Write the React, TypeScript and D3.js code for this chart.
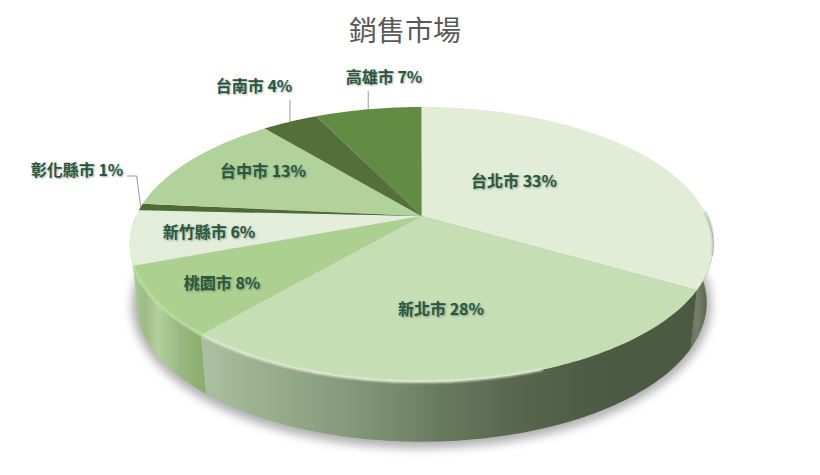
import * as d3 from "d3";

const CITIES = ["台北市", "新北市", "桃園市", "新竹縣市", "彰化縣市", "台中市", "台南市", "高雄市"];
const SHARES = [33.4, 27.9, 8, 6.4, 0.8, 12.5, 3.8, 7.2];
const TOP_COLORS = ["#e1edd6", "#c5deb4", "#acd08f", "#e2eed9", "#4f6b35", "#b1d39b", "#546f39", "#628c43"];

const WIDTH = 820;
const HEIGHT = 475;
const FONT = "'Noto Sans CJK TC', 'Noto Sans', sans-serif";

// label centres, in the same order as CITIES
const LABEL_POS: [number, number][] = [
  [514, 183], [441, 311], [222, 285], [209, 234], [77, 172], [263, 173], [254, 88], [384, 79],
];

// side wall colours by x position, for the slices facing the viewer
const SIDE_STOPS: Record<number, [number, string][]> = {
  0: [[680, "#4d5a42"], [688, "#5a6850"], [697, "#757f6e"], [707, "#566848"], [714, "#55664a"]],
  1: [[205, "#aac0a0"], [260, "#9bb08e"], [320, "#8ba181"], [400, "#768a6b"], [440, "#687a5e"], [525, "#56654c"], [600, "#4d5a44"], [690, "#4d5a42"]],
  2: [[135, "#a8c691"], [145, "#9dbb86"], [158, "#b3d09d"], [180, "#97b981"], [205, "#8aad6d"]],
  3: [[128, "#c4dcb0"], [136, "#a8c691"]],
};

const TILT = 0.207;
type Disc = { x0: number; y0: number; a: number; b: number };
const TOP_DISC: Disc = { x0: 421.5, y0: 216, a: 285.5, b: 131.6 };
const BOTTOM_DISC: Disc = { x0: 421.5, y0: 274, a: 279, b: 133 };

// perspective of a flat disc: the apex sits above the centre of the ellipse
const project = (disc: Disc, angle: number, r = 1): [number, number] => {
  const X = Math.sin(angle) * r;
  const Y = Math.cos(angle) * r;
  const w = 1 + TILT * Y;
  return [disc.x0 + (disc.a * X) / w, disc.y0 - (disc.b * Y) / w];
};

const arcPoints = (disc: Disc, from: number, to: number) => {
  const n = Math.max(2, Math.ceil(Math.abs(to - from) * 60));
  return d3.range(n + 1).map((i) => project(disc, from + ((to - from) * i) / n));
};

const line = d3.line();
const DEG = Math.PI / 180;
const FRONT_START = 90 * DEG;
const FRONT_END = 270 * DEG;

export default function App() {
  const slices = d3.pie<number>().sort(null).startAngle(0).endAngle(2 * Math.PI)(SHARES);
  const apex = project(TOP_DISC, 0, 0);
  const outline = arcPoints(BOTTOM_DISC, 0, 2 * Math.PI);

  const sides = slices
    .map((s, i) => ({
      i,
      from: Math.max(s.startAngle, FRONT_START),
      to: Math.min(s.endAngle, FRONT_END),
    }))
    .filter((s) => s.to > s.from);

  return (
    <svg
      width={WIDTH}
      height={HEIGHT}
      style={{ position: "absolute", left: 0, top: 0, background: "#fff" }}
    >
      <defs>
        <filter id="shadow" x="-10%" y="-20%" width="120%" height="140%">
          <feGaussianBlur stdDeviation="5" />
        </filter>
        <filter id="soft" x="-5%" y="-5%" width="110%" height="110%">
          <feGaussianBlur stdDeviation="0.8" />
        </filter>
        {sides.map((s) => {
          const stops = SIDE_STOPS[s.i];
          const x = d3.scaleLinear()
            .domain([stops[0][0], stops[stops.length - 1][0]])
            .range([0, 1]);
          return (
            <linearGradient
              key={s.i}
              id={`side-${s.i}`}
              gradientUnits="userSpaceOnUse"
              x1={stops[0][0]}
              x2={stops[stops.length - 1][0]}
              y1={0}
              y2={0}
            >
              {stops.map(([px, color]) => (
                <stop key={px} offset={x(px)} stopColor={color} />
              ))}
            </linearGradient>
          );
        })}
      </defs>

      <text
        x={405}
        y={41}
        textAnchor="middle"
        fontFamily={FONT}
        fontSize={28}
        fill="#595959"
      >
        銷售市場
      </text>

      {/* soft shadow under the pie */}
      <path
        d={`${line(outline)}Z`}
        transform="translate(0, 2)"
        fill="#b0b0b0"
        stroke="#b0b0b0"
        strokeWidth={9}
        filter="url(#shadow)"
      />

      {/* side wall */}
      {sides.map((s) => (
        <path
          key={s.i}
          d={`${line([
            ...arcPoints(TOP_DISC, s.from, s.to),
            ...arcPoints(BOTTOM_DISC, s.to, s.from),
          ])}Z`}
          fill={`url(#side-${s.i})`}
        />
      ))}

      {/* top face */}
      {slices.map((s, i) => (
        <path
          key={CITIES[i]}
          d={`${line([apex, ...arcPoints(TOP_DISC, s.startAngle, s.endAngle)])}Z`}
          fill={TOP_COLORS[i]}
        />
      ))}

      {/* bevel highlights along the rim */}
      <path
        d={line(arcPoints(TOP_DISC, 160 * DEG, 220 * DEG)) ?? ""}
        fill="none"
        stroke="#eef5e8"
        strokeWidth={1.8}
        filter="url(#soft)"
      />
      <path
        d={line(arcPoints(TOP_DISC, 220 * DEG, 250 * DEG)) ?? ""}
        fill="none"
        stroke="#c4eba6"
        strokeWidth={1.8}
        filter="url(#soft)"
      />
      <path
        d={line(arcPoints(TOP_DISC, 88 * DEG, 106 * DEG)) ?? ""}
        fill="none"
        stroke="#6d7a62"
        strokeWidth={1}
        filter="url(#soft)"
      />

      {/* leader lines for labels outside the pie */}
      {slices.map((s, i) => {
        if (i < 4 || i === 5) return null;
        const end = project(TOP_DISC, (s.startAngle + s.endAngle) / 2);
        const [lx, ly] = LABEL_POS[i];
        const points: [number, number][] =
          i === 4
            ? [[lx + 50, ly + 4], [end[0] - 4, ly + 4], end]
            : [[end[0], ly + 12], end];
        return (
          <path
            key={CITIES[i]}
            d={line(points) ?? ""}
            fill="none"
            stroke="#8c8c8c"
            strokeWidth={0.9}
          />
        );
      })}

      {/* labels */}
      {CITIES.map((city, i) => (
        <text
          key={city}
          x={LABEL_POS[i][0]}
          y={LABEL_POS[i][1]}
          textAnchor="middle"
          dominantBaseline="middle"
          fontFamily={FONT}
          fontSize={16}
          fontWeight={700}
          fill="#27593f"
          style={{ textShadow: "1px 1px 2px rgba(60,60,60,0.45)" }}
        >
          {`${city} ${Math.round(SHARES[i])}%`}
        </text>
      ))}
    </svg>
  );
}
